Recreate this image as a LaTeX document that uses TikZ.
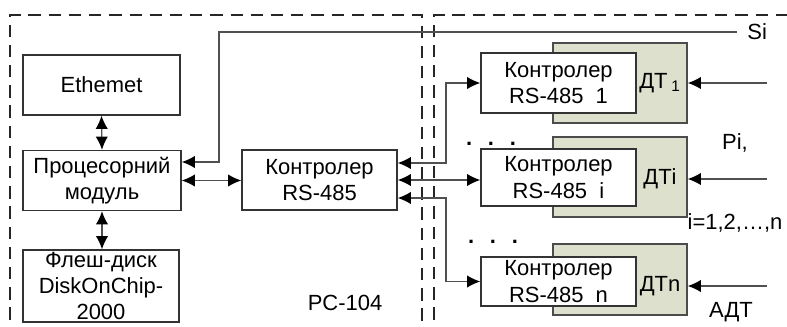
\documentclass[tikz,border=0pt]{standalone}
\usepackage{fontspec}
\setmainfont{Liberation Sans}
\usetikzlibrary{arrows.meta}
\definecolor{dtgray}{RGB}{221,224,205}
\definecolor{linegray}{RGB}{80,80,80}

\begin{document}
\begin{tikzpicture}[x=0.02cm,y=-0.02cm,
    font=\fontsize{12.5}{15}\selectfont,
    >={Latex[length=7.5pt,width=7pt,color=black]},
    box/.style={draw=black!80,line width=0.8pt,fill=white,align=center,inner sep=0pt,
      minimum width=3.1cm,minimum height=1.2cm},
    dtbox/.style={draw=black!70,line width=0.8pt,fill=dtgray,minimum width=2.68cm},
    frame/.style={black!85,line width=1.1pt,dash pattern=on 7pt off 4.5pt},
    tip/.style={->,draw=linegray,line width=0.7pt},
    both/.style={<->,draw=linegray,line width=0.7pt}]
  \useasboundingbox (0,0) rectangle (787,327);
  % dashed frames: PC-104 (left) and sensors (right)
  \draw[frame] (10,340) |- (422,15) -- (422,340);
  \draw[frame] (434,340) |- (800,15);
  % PC-104 side
  \node[box,minimum width=3.14cm] (eth) at (101.5,85) {Ethemet};
  \node[box,minimum width=3.16cm] (proc) at (102,180.5) {Процесорний\\модуль};
  \node[box,minimum width=3.12cm,minimum height=1.44cm] (flash) at (101,286) {Флеш-диск\\DiskOnChip-\\2000};
  \node[box] (ctrl) at (319.5,180) {Контролер\\RS-485};
  \node (pc) at (345,303) {PC-104};
  % sensor rows: grey DT block behind its controller
  \foreach \k/\gy/\gh/\cy/\ch/\dt/\py in {1/83/1.6/83/1.2/{ДТ\,\textsubscript{1}}/83,
      i/177/1.6/177.5/1.14/ДТi/179, n/279.5/1.42/281.5/0.98/ДТn/286}{
    \node[dtbox,minimum height=\gh cm] (g\k) at (620,\gy) {};
    \node[box,minimum height=\ch cm] (c\k) at (558.5,\cy) {Контролер\\RS-485\ \ \k};
    \node (t\k) at (660,\py) {\dt};
    \coordinate (p\k) at (767,\py);
    \draw[tip] (p\k) -- (p\k -| g\k.east);
  }
  \node[anchor=base] (dots1) at (491,146) {\textbf{.}\hspace{9pt}\textbf{.}\hspace{9pt}\textbf{.}};
  \node[anchor=base] (dots2) at (493,244) {\textbf{.}\hspace{9pt}\textbf{.}\hspace{9pt}\textbf{.}};
  \node (pi) at (735,143) {Pi,};
  \node (range) at (735,223) {i=1,2,…,n};
  \node (adt) at (731,312) {АДТ};
  % Si line
  \coordinate (siend) at (737,32);
  \coordinate (sibend) at (219,32);
  \node[anchor=west,inner sep=0pt] (si) at (747,32) {Si};
  \draw[tip] (siend) -- (sibend) |- ([yshift=0.37cm]proc.east);
  % links
  \draw[both] (eth.south) -- (proc.north);
  \draw[both] (proc.south) -- (proc.south |- flash.north);
  \draw[both] (proc.east) -- (proc.east -| ctrl.west);
  \coordinate (bus) at (446,180);
  \draw[both] ([yshift=0.34cm]ctrl.east) -| (bus |- c1.west) -- (c1.west);
  \draw[both] (ctrl.east) -- (ctrl.east -| ci.west);
  \draw[both] ([yshift=-0.36cm]ctrl.east) -| (bus |- cn.west) -- (cn.west);
\end{tikzpicture}
\end{document}
